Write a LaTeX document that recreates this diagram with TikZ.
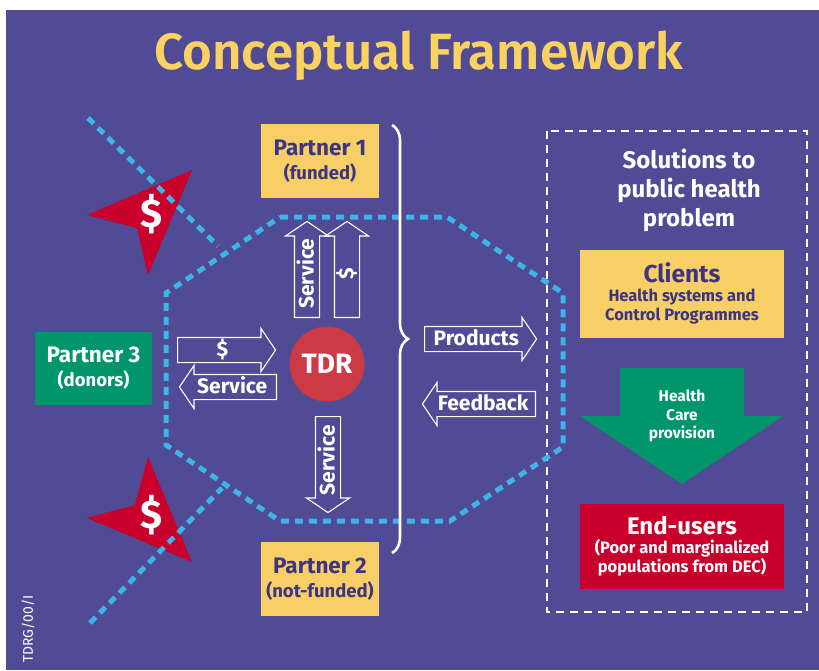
\documentclass[tikz,border=0pt]{standalone}
\usepackage{fontspec}
\setmainfont{Fira Sans}
\newfontfamily\semibold{Fira Sans SemiBold}
\usetikzlibrary{positioning}
\usetikzlibrary{shapes.arrows}
\usetikzlibrary{decorations.pathreplacing}

\definecolor{framebg}{HTML}{514A94}
\definecolor{titleyellow}{HTML}{F9D262}
\definecolor{boxyellow}{HTML}{F8CF66}
\definecolor{navy}{HTML}{3B3584}
\definecolor{donorgreen}{HTML}{00956B}
\definecolor{userred}{HTML}{C8002B}
\definecolor{tdrred}{HTML}{CC3B45}
\definecolor{hexblue}{HTML}{3DB5E8}

\newcommand{\headfont}{\fontsize{22.5}{24}\selectfont\bfseries}
\newcommand{\subfont}{\fontsize{18.5}{24}\selectfont\bfseries}
\newcommand{\smallfont}{\fontsize{16.5}{19}\selectfont\bfseries}

\tikzset{
  partnerbox/.style={fill=boxyellow,text=navy,align=center,inner sep=0pt,minimum width=118pt,minimum height=74pt,font=\subfont},
  donorbox/.style={partnerbox,fill=donorgreen,text=white,minimum width=117pt,minimum height=73pt},
  flow/.style={single arrow,draw=white,line width=1.1pt,text=white,font=\fontsize{21}{22}\selectfont\bfseries,
    single arrow tip angle=112,single arrow head extend=9pt,text height=14.5pt,text depth=1.5pt,
    inner ysep=4pt,inner xsep=2pt,anchor=tail},
  cyandots/.style={hexblue,line width=5pt,dash pattern=on 8pt off 6pt},
  dollar/.style={text=white,font=\fontsize{40}{40}\selectfont\bfseries,inner sep=0pt},
}

\begin{document}
\begin{tikzpicture}[x=1pt,y=-1pt]
      \fill[white] (0,0) rectangle (819,670);
      \fill[framebg] (6,10) rectangle (819,670);
      \node[font=\fontsize{51}{54}\semibold,text=titleyellow] (title) at (419,56) {Conceptual Framework};

      % money going to the two outside partners
      \fill[userred] (192,170) -- (87,215) -- (137,228) -- (148,275) -- cycle;
      \node[dollar] (dollarA) at (151,214) {\$};
      \fill[userred] (148,457) -- (135,505) -- (87,518) -- (192,562) -- cycle;
      \node[dollar] (dollarB) at (151,515) {\$};

      \draw[white,line width=2.5pt,dash pattern=on 8pt off 6pt] (547,131) rectangle (807,612);
      \draw[cyandots] (88,118) -- (218,246);
      \draw[cyandots] (90,623) -- (222,488);
      \draw[cyandots] (280,217) -- (447,217) -- (563,293) -- (563,447) -- (450,521) -- (280,521) -- (166,445) -- (166,293) -- cycle;

      \node[partnerbox] (partnerA) at (320,161) {{\headfont Partner 1}\\(funded)};
      \node[partnerbox] (partnerB) at (320,579) {{\headfont Partner 2}\\(not-funded)};
      \node[donorbox] (partnerC) at (93.5,368.5) {{\headfont Partner 3}\\(donors)};
      \node[circle,fill=tdrred,text=white,minimum size=75pt,inner sep=0pt,font=\fontsize{28}{30}\selectfont\bfseries] (tdr) at (327,364) {TDR};

      \draw[white,line width=2.6pt,decorate,decoration={brace,amplitude=16pt}] (392,125) -- (392,553);

      % exchanges around TDR
      \node[flow,minimum height=98pt] (payin) at (177,350) {\$};
      \node[flow,minimum height=97pt,shape border rotate=180] (servout) at (277,387) {Service};
      \node[flow,rotate=90,minimum height=96pt] (servup) at (307,318) {Service};
      \node[flow,rotate=90,minimum height=96pt] (payup) at (347,318) {\$};
      \node[flow,rotate=90,shape border rotate=180,minimum height=96pt] (servdown) at (328,416) {Service};
      \node[flow,minimum height=112pt] (products) at (424,339) {Products};
      \node[flow,shape border rotate=180,minimum height=113pt] (feedback) at (536,404) {Feedback};

      \node[text=white,align=center,font=\fontsize{24}{29}\selectfont\bfseries] (solutions) at (689,190) {Solutions to\\public health\\problem};
      \node[partnerbox,minimum width=204pt,minimum height=88pt,font=\smallfont] (clients) at (682,293.5)
        {{\fontsize{24.5}{26}\selectfont Clients}\\Health systems and\\Control Programmes};
      \fill[donorgreen] (620,368) -- (744,368) -- (744,416) -- (783,416) -- (682,484) -- (580,416) -- (620,416) -- cycle;
      \node[text=white,align=center,font=\fontsize{15.5}{18.5}\selectfont\bfseries] (care) at (682,416) {Health\\Care\\provision};
      \node[partnerbox,fill=userred,text=white,minimum width=204pt,minimum height=85pt,font=\smallfont] (users) at (682,546.5)
        {{\fontsize{24}{26}\selectfont End-users}\\(Poor and marginalized\\populations from DEC)};

      \node[rotate=90,text=white,font=\fontsize{14}{14}\selectfont] (code) at (28,629) {TDRG/00/I};
\end{tikzpicture}
\end{document}
